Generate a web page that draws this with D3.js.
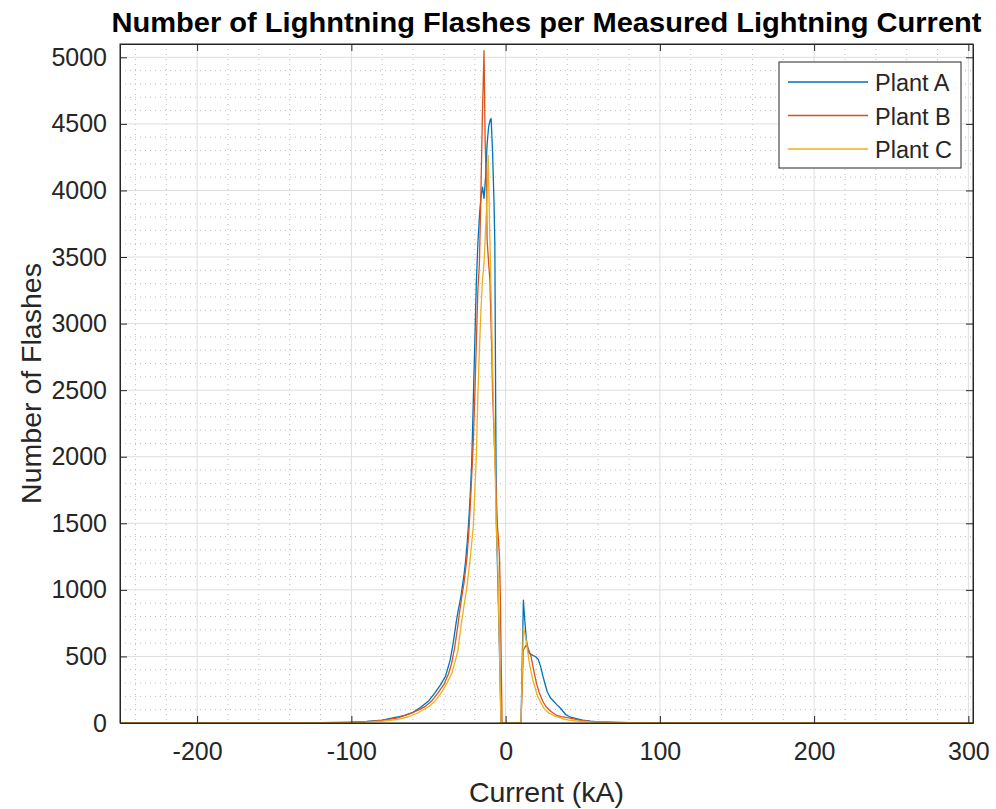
<!DOCTYPE html>
<html>
<head>
<meta charset="utf-8">
<script src="https://cdn.jsdelivr.net/npm/d3@7"></script>
<style>
    body { margin: 0; background: #fff; }
    text { font-family: "Liberation Sans", Arial, Helvetica, sans-serif; fill: #262626; }
</style>
</head>
<body>
<script>

// plant A (blue)
let currentA = [-250, -150, -120, -100, -90, -80, -70, -65, -60, -55, -50, -46, -42, -39, -36, -34, -32, -31, -30, -29, -28, -27, -26, -25, -24, -23, -22, -21, -20, -19, -18, -17, -16, -15, -14, -13, -12, -11, -10, -9.4, -8.5, -7.5, -7, -6.5, -6, -5, -4, -3, 10, 11.5, 12.5, 13.5, 15, 16.5, 18, 19.5, 21, 22, 23, 24, 25.5, 27, 29, 31, 33, 36, 39, 42, 46, 50, 55, 60, 70, 80, 100, 130, 200, 303];
let flashesA = [0, 0, 2, 7, 12, 22, 45, 60, 80, 118, 165, 225, 290, 350, 470, 600, 760, 830, 890, 950, 1030, 1110, 1210, 1340, 1500, 1700, 1950, 2400, 2850, 3300, 3600, 3800, 3950, 4025, 3940, 4100, 4350, 4480, 4530, 4540, 4300, 3900, 3600, 2500, 1500, 1050, 550, 0, 0, 923, 760, 620, 530, 515, 505, 498, 480, 450, 410, 360, 295, 235, 190, 165, 140, 105, 62, 45, 32, 22, 14, 8, 5, 3, 1, 0, 0, 0];

// plant B (orange)
let currentB = [-250, -150, -120, -100, -90, -80, -70, -62, -56, -52, -48, -44, -40, -37, -35, -33, -31, -30, -28, -27, -25, -23.6, -22, -21, -20, -19, -18, -17, -16, -15, -14, -13.3, -12.4, -12, -11, -10.2, -9, -8.5, -7, -6, -5.3, -4.5, -4, -3.5, -2.3, 10, 11.5, 13.3, 15, 16.5, 18.6, 20, 21.9, 24, 26.2, 29, 32.7, 36, 41, 48, 55, 65, 80, 100, 130, 200, 303];
let flashesB = [0, 0, 1, 5, 10, 20, 38, 70, 100, 125, 165, 225, 290, 370, 450, 570, 730, 820, 980, 1050, 1250, 1480, 1850, 2100, 2450, 2850, 3250, 3450, 4000, 4600, 5050, 4380, 4000, 3630, 3450, 3330, 2800, 2500, 2000, 1700, 1480, 1350, 1250, 1000, 0, 0, 548, 585, 550, 498, 373, 300, 223, 165, 122, 90, 60, 48, 38, 22, 12, 7, 3, 1, 0, 0, 0];

// plant C (yellow)
let currentC = [-250, -150, -120, -100, -90, -80, -70, -63, -57, -50, -46, -42, -38, -35, -33, -31, -29, -27, -25, -23, -21, -19, -18, -17, -16, -15, -14, -13, -12, -11.3, -10.2, -9.6, -8.1, -7, -6, -5, -4, -3, 10, 11.5, 13.3, 15.4, 17.6, 20.8, 24.9, 28, 32.7, 37, 41, 48, 55, 65, 80, 100, 130, 200, 303];
let flashesC = [0, 0, 1, 3, 7, 13, 28, 47, 75, 122, 160, 222, 300, 370, 450, 540, 720, 880, 1030, 1230, 1470, 2000, 2450, 2800, 3100, 3330, 3450, 3700, 3950, 4264, 3626, 3326, 2500, 2000, 1474, 1150, 550, 0, 0, 723, 623, 448, 323, 198, 110, 75, 47, 32, 22, 13, 8, 4, 2, 1, 0, 0, 0];

let plants = ["Plant A", "Plant B", "Plant C"];
let colors = ["#0072BD", "#D95319", "#EDB120"];

let xTicks = [-200, -100, 0, 100, 200, 300];
let yTicks = [0, 500, 1000, 1500, 2000, 2500, 3000, 3500, 4000, 4500, 5000];

let margin = {
    top: 44,
    right: 23,
    bottom: 86,
    left: 120
};
let fullWidth = 996, fullHeight = 809;
let width = fullWidth - margin.left - margin.right;
let height = fullHeight - margin.top - margin.bottom;

let svg = d3.select("body").append("svg")
    .attr("width", fullWidth)
    .attr("height", fullHeight);

svg.append("rect")
    .attr("width", fullWidth)
    .attr("height", fullHeight)
    .attr("fill", "white");

let g = svg.append("g")
    .attr("transform", "translate(" + margin.left + "," + margin.top + ")");

let xScale = d3.scaleLinear().domain([-250, 303]).range([0, width]);
let yScale = d3.scaleLinear().domain([0, 5100]).range([height, 0]);

// minor grid (dotted)
let xMinor = d3.range(-240, 303, 20).filter(v => v % 100 !== 0);
let yMinor = d3.range(100, 5100, 100).filter(v => v % 500 !== 0);

g.selectAll(".xminor").data(xMinor).enter().append("line")
    .attr("x1", d => xScale(d)).attr("x2", d => xScale(d))
    .attr("y1", 0).attr("y2", height)
    .attr("stroke", "#bdbdbd").attr("stroke-width", 1)
    .attr("stroke-dasharray", "1,4");

g.selectAll(".yminor").data(yMinor).enter().append("line")
    .attr("x1", 0).attr("x2", width)
    .attr("y1", d => yScale(d)).attr("y2", d => yScale(d))
    .attr("stroke", "#bdbdbd").attr("stroke-width", 1)
    .attr("stroke-dasharray", "1,4");

// major grid
g.selectAll(".xgrid").data(xTicks).enter().append("line")
    .attr("x1", d => xScale(d)).attr("x2", d => xScale(d))
    .attr("y1", 0).attr("y2", height)
    .attr("stroke", "#dedede").attr("stroke-width", 1);

g.selectAll(".ygrid").data(yTicks).enter().append("line")
    .attr("x1", 0).attr("x2", width)
    .attr("y1", d => yScale(d)).attr("y2", d => yScale(d))
    .attr("stroke", "#dedede").attr("stroke-width", 1);

// series
let series = [
    {x: currentA, y: flashesA},
    {x: currentB, y: flashesB},
    {x: currentC, y: flashesC}
];

let line = d3.line()
    .x(d => xScale(d[0]))
    .y(d => yScale(d[1]));

series.forEach(function(s, i){
    let pts = s.x.map((v, j) => [v, s.y[j]]);
    g.append("path")
        .datum(pts)
        .attr("fill", "none")
        .attr("stroke", colors[i])
        .attr("stroke-width", 1.3)
        .attr("stroke-linejoin", "round")
        .attr("d", line);
});

// axes (ticks inside, mirrored on top / right)
let tickLen = 7;
let fmt = d => String(d);
let xAxis = d3.axisBottom(xScale).tickValues(xTicks).tickFormat(fmt).tickSizeInner(-tickLen).tickSizeOuter(0).tickPadding(19);
let yAxis = d3.axisLeft(yScale).tickValues(yTicks).tickFormat(fmt).tickSizeInner(-tickLen).tickSizeOuter(0).tickPadding(13);

let gx = g.append("g").attr("transform", "translate(0," + height + ")").call(xAxis);
let gy = g.append("g").call(yAxis);
g.append("g").call(d3.axisTop(xScale).tickValues(xTicks).tickSizeInner(-tickLen).tickSizeOuter(0).tickFormat(""));
g.append("g").attr("transform", "translate(" + width + ",0)")
    .call(d3.axisRight(yScale).tickValues(yTicks).tickSizeInner(-tickLen).tickSizeOuter(0).tickFormat(""));

g.selectAll(".domain").attr("stroke", "#262626");
g.selectAll(".tick line").attr("stroke", "#262626");
gx.selectAll("text").style("font-size", "25px").attr("fill", "#262626");
gy.selectAll("text").style("font-size", "25px").attr("fill", "#262626");

// box
g.append("rect")
    .attr("width", width).attr("height", height)
    .attr("fill", "none").attr("stroke", "#262626").attr("stroke-width", 1);

// labels
svg.append("text")
    .attr("x", margin.left + width / 2)
    .attr("y", 32)
    .attr("text-anchor", "middle")
    .style("fill", "#000")
    .style("font-size", "27px")
    .style("font-weight", "bold")
    .attr("textLength", 870)
    .attr("lengthAdjust", "spacingAndGlyphs")
    .text("Number of Lighntning Flashes per Measured Lightning Current");

svg.append("text")
    .attr("x", margin.left + width / 2)
    .attr("y", 802)
    .attr("text-anchor", "middle")
    .style("font-size", "28.5px")
    .text("Current (kA)");

svg.append("text")
    .attr("transform", "translate(41," + (margin.top + height / 2) + ") rotate(-90)")
    .attr("text-anchor", "middle")
    .style("font-size", "28.5px")
    .text("Number of Flashes");

// legend
let legend = svg.append("g").attr("transform", "translate(779,62)");
legend.append("rect")
    .attr("width", 182).attr("height", 106)
    .attr("fill", "white").attr("stroke", "#262626").attr("stroke-width", 1);

plants.forEach(function(p, i){
    let yy = 20 + i * 33.5;
    legend.append("line")
        .attr("x1", 9).attr("x2", 89)
        .attr("y1", yy).attr("y2", yy)
        .attr("stroke", colors[i]).attr("stroke-width", 1.3);
    legend.append("text")
        .attr("x", 96).attr("y", yy + 9)
        .style("font-size", "23.5px")
        .text(p);
});

</script>
</body>
</html>
